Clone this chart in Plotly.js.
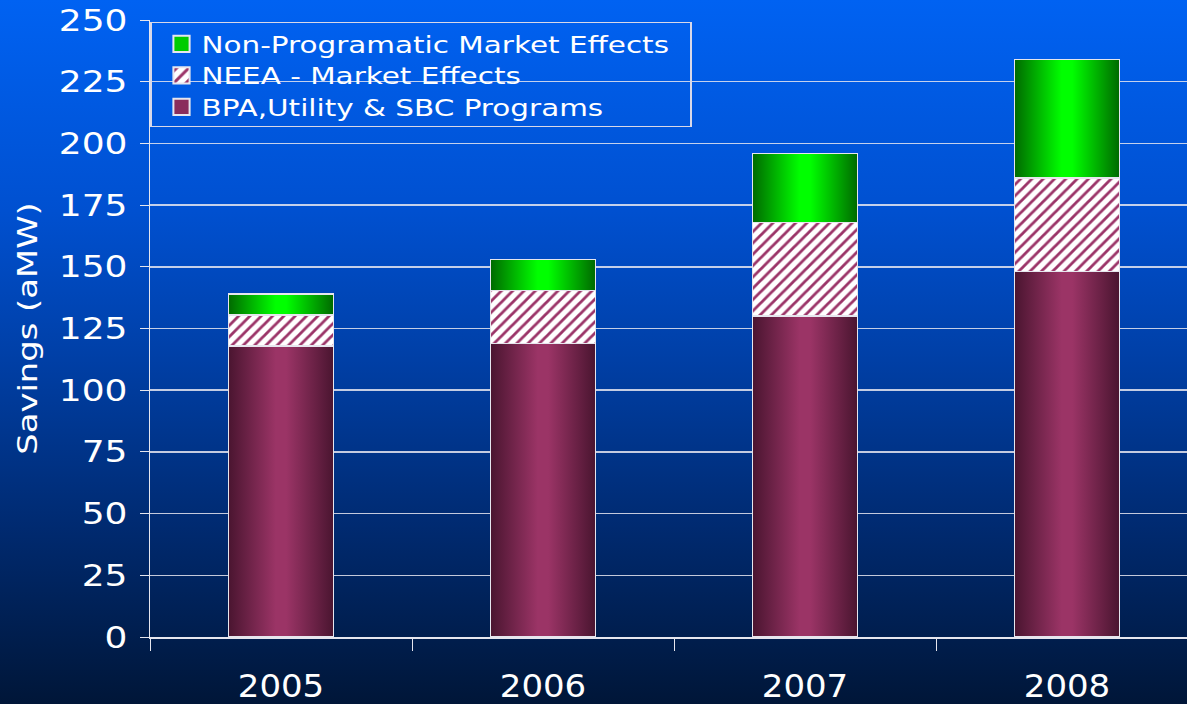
<!DOCTYPE html>
<html><head><meta charset="utf-8">
<script src="https://cdn.plot.ly/plotly-3.0.1.min.js"></script>
<style>
html,body{margin:0;padding:0;width:1187px;height:704px;overflow:hidden;
background:linear-gradient(to bottom,#0062f2 0%,#0050d0 30%,#0040a8 50%,#002a70 75%,#001638 100%);}
#chart{width:1187px;height:704px;}
</style></head><body>
<div id="chart"></div>
<script>
const years = ['2005','2006','2007','2008'];
const bpaPrograms = [118, 119, 130, 148];
const neeaMarket = [12.5, 21.5, 38, 38];
const nonProgramatic = [8.5, 12.5, 28, 48];
const yTicks = [0,25,50,75,100,125,150,175,200,225,250];

const lineStyle = {color:'#e6e6ee', width:1.5};
const traces = [
  {type:'bar', name:'BPA,Utility & SBC Programs', x:years, y:bpaPrograms,
   marker:{color:'#8a2d5c', line:lineStyle}, width:0.4},
  {type:'bar', name:'NEEA - Market Effects', x:years, y:neeaMarket,
   marker:{color:'#ffffff', line:lineStyle,
     pattern:{shape:'/', fgcolor:'#9b3468', bgcolor:'#ffffff', size:8, solidity:0.35, fillmode:'replace'}}, width:0.4},
  {type:'bar', name:'Non-Programatic Market Effects', x:years, y:nonProgramatic,
   marker:{color:'#00cc00', line:lineStyle}, width:0.4}
];
const layout = {
  width:1187, height:704,
  paper_bgcolor:'rgba(0,0,0,0)', plot_bgcolor:'rgba(0,0,0,0)',
  margin:{l:150, r:0, t:20, b:67},
  barmode:'stack',
  showlegend:true,
  legend:{x:0.0, y:0.997, xanchor:'left', yanchor:'top', traceorder:'reversed',
    bgcolor:'rgba(0,0,0,0)', bordercolor:'#d8d8e8', borderwidth:1.5, indentation:10,
    font:{family:'DejaVu Sans', size:23, color:'#ffffff'}, itemwidth:30, tracegroupgap:0},
  xaxis:{type:'category', range:[-0.5, 3.458], showgrid:false,
    showline:true, linecolor:'#e6e6ee', linewidth:1.5,
    ticks:'outside', tickson:'boundaries', ticklen:12, tickcolor:'#e6e6ee', tickwidth:1,
    tickfont:{family:'Liberation Sans Narrow, DejaVu Sans Condensed', size:32, color:'#ffffff'},
    ticklabelstandoff:20},
  yaxis:{range:[0,250], tickvals:yTicks, ticktext:yTicks.map(String),
    showgrid:true, gridcolor:'rgba(230,230,240,0.85)', gridwidth:1.5,
    showline:true, linecolor:'#e6e6ee', linewidth:1.5,
    ticks:'outside', ticklen:9, tickcolor:'#e6e6ee', tickwidth:1,
    tickfont:{family:'DejaVu Sans', size:30, color:'#ffffff'},
    ticklabelstandoff:6,
    title:{text:'Savings (aMW)', font:{family:'DejaVu Sans', size:26, color:'#ffffff'}, standoff:25},
    zeroline:false}
};
function stretch(el, factor){
  const w = el.getComputedTextLength();
  if(!w) return;
  el.setAttribute('textLength', (w*factor).toFixed(1));
  el.setAttribute('lengthAdjust','spacingAndGlyphs');
}
Plotly.newPlot('chart', traces, layout, {staticPlot:true}).then(function(){
  const svg = document.querySelector('#chart .main-svg');
  let defs = svg.querySelector('defs');
  const ns = 'http://www.w3.org/2000/svg';
  function grad(id, stops){
    const g = document.createElementNS(ns,'linearGradient');
    g.setAttribute('id',id); g.setAttribute('x1','0'); g.setAttribute('x2','1');
    g.setAttribute('y1','0'); g.setAttribute('y2','0');
    stops.forEach(s=>{const st=document.createElementNS(ns,'stop');
      st.setAttribute('offset',s[0]); st.setAttribute('stop-color',s[1]); g.appendChild(st);});
    defs.appendChild(g);
  }
  grad('gBPA',[[0,'#4a1530'],[0.45,'#9b3466'],[0.55,'#9b3466'],[1,'#4a1530']]);
  grad('gNON',[[0,'#006a00'],[0.45,'#00ff00'],[0.55,'#00ff00'],[1,'#006a00']]);
  const tr = document.querySelectorAll('#chart .barlayer .trace');
  if(tr[0]) tr[0].querySelectorAll('path').forEach(p=>p.style.fill='url(#gBPA)');
  if(tr[2]) tr[2].querySelectorAll('path').forEach(p=>p.style.fill='url(#gNON)');

  // widen text glyphs to match the reference's broad face
  document.querySelectorAll('#chart .ytick text').forEach(t=>stretch(t,1.2));
  document.querySelectorAll('#chart .xtick text').forEach(t=>stretch(t,1.18));
  document.querySelectorAll('#chart .ytitle').forEach(t=>stretch(t,1.3));
  document.querySelectorAll('#chart .legendtext').forEach(t=>stretch(t,1.28));

  // legend geometry tweaks: tighter rows, wider box, bigger swatches
  const items = Array.from(document.querySelectorAll('#chart .legend .traces'));
  const parseY = g => { const m = /translate\(\s*([-\d.]+)[ ,]+([-\d.]+)/.exec(g.getAttribute('transform')||''); return m ? [parseFloat(m[1]), parseFloat(m[2])] : [0,0]; };
  if(items.length){
    const pos = items.map(parseY);
    const y0 = pos[0][1] - 1;
    items.forEach((g,i)=>g.setAttribute('transform','translate('+pos[i][0]+','+(y0 + i*31.5)+')'));
  }
  document.querySelectorAll('#chart .legend .bg').forEach(r=>{r.setAttribute('width','540'); r.setAttribute('height','104');});
  document.querySelectorAll('#chart clipPath[id^="legend"] rect').forEach(r=>{r.setAttribute('width','540'); r.setAttribute('height','104');});
  document.querySelectorAll('#chart .legendpoints path').forEach(p=>{
    const t = p.getAttribute('transform') || '';
    p.setAttribute('transform', t + ' scale(1.35)');
  });
});
</script>
</body></html>
